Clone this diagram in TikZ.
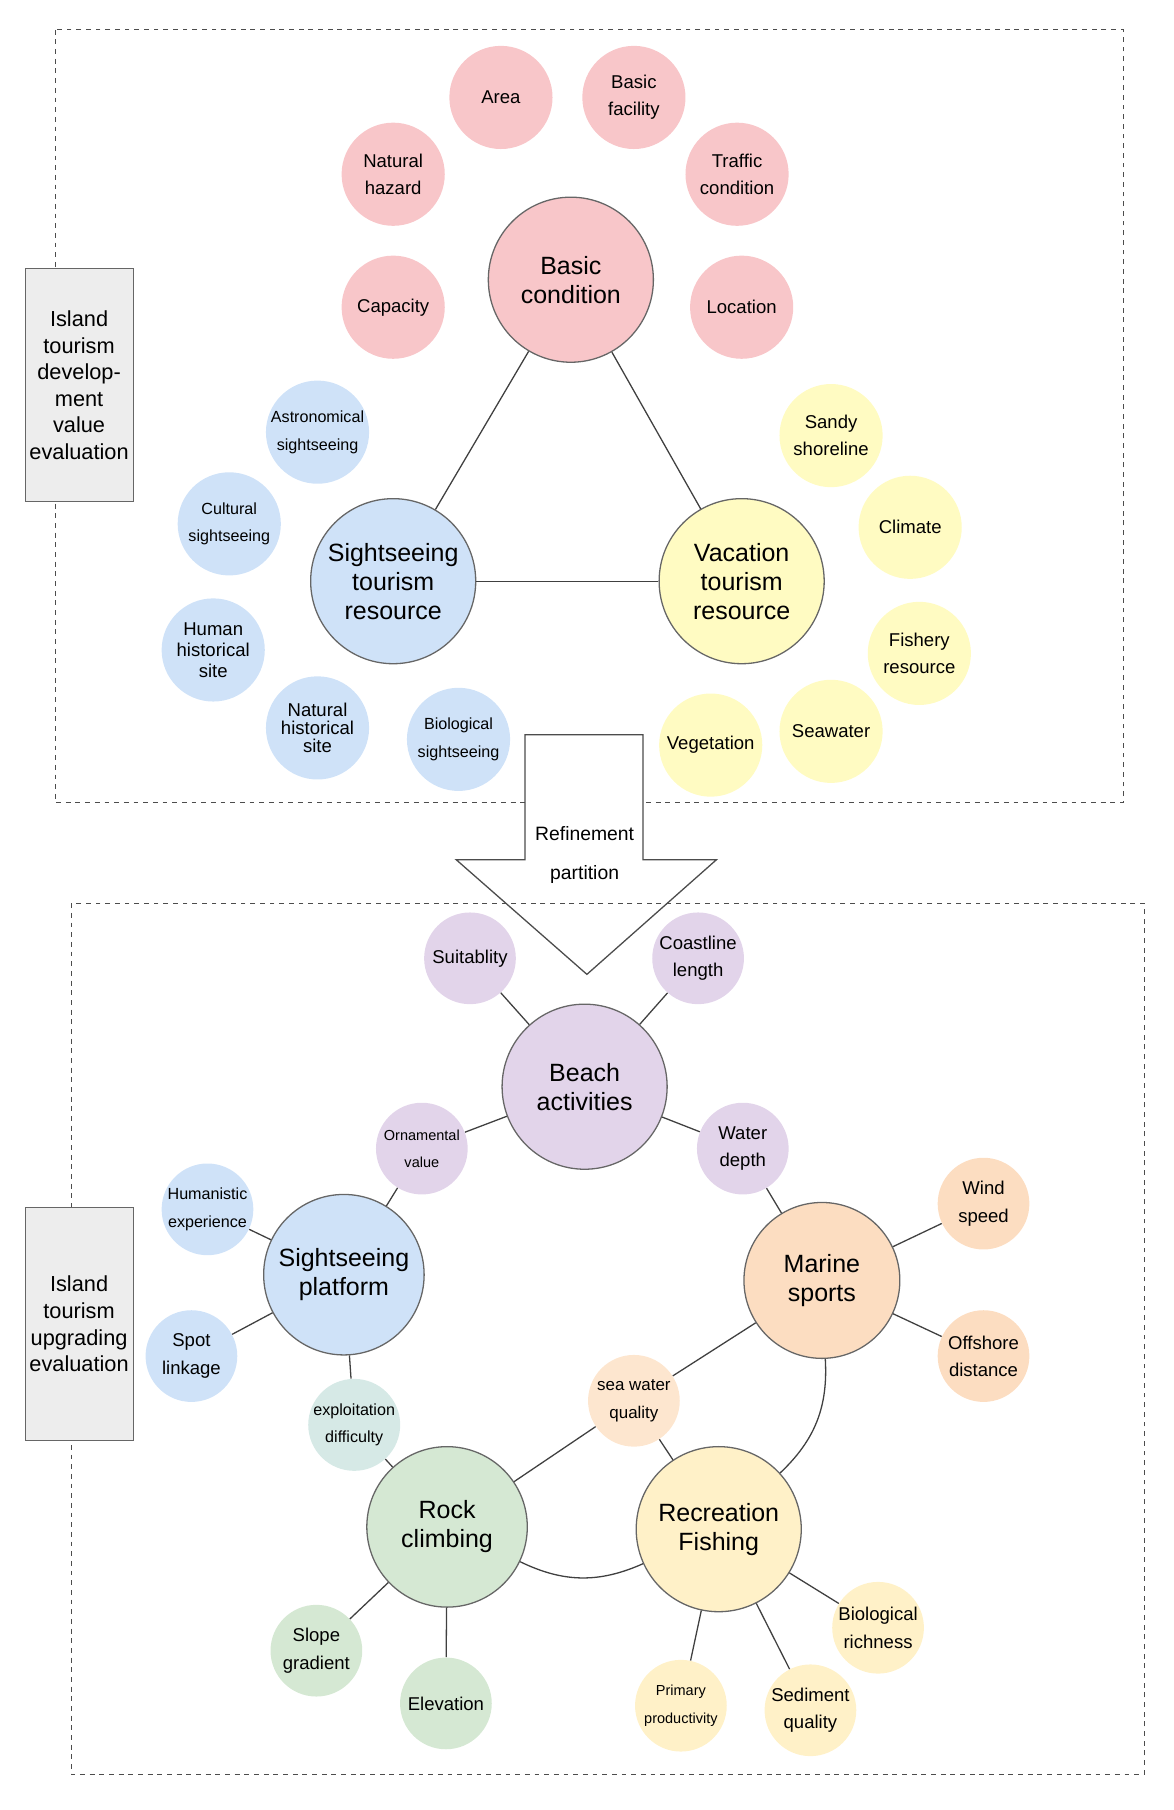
\documentclass[tikz,border=0pt]{standalone}
\usepackage{fontspec}
\setmainfont{Liberation Sans}
\usetikzlibrary{positioning}
\definecolor{cpink}{HTML}{F8C6C9}
\definecolor{cblue}{HTML}{CFE2F8}
\definecolor{cyell}{HTML}{FFFBC2}
\definecolor{cpurp}{HTML}{E2D4EA}
\definecolor{corng}{HTML}{FCDDC1}
\definecolor{cgren}{HTML}{D5E8D3}
\definecolor{cfish}{HTML}{FFF1C8}
\definecolor{cpeach}{HTML}{FDE6CF}
\definecolor{cteal}{HTML}{D6E9E6}
\tikzset{
  big/.style={circle,draw=black!60,thick,minimum size=144*0.025cm,inner sep=0pt,align=center,font=\fontsize{15.5}{18}\selectfont},
  small/.style={circle,draw=none,minimum size=90*0.025cm,inner sep=0pt,align=center,font=\fontsize{11.5}{17}\selectfont},
  tiny/.style={small,font=\fontsize{10}{17}\selectfont},
  side/.style={draw=black!60,fill=black!7,minimum width=94*0.025cm,minimum height=203*0.025cm,align=center,inner sep=1pt,font=\fontsize{13.5}{16.5}\selectfont},
  link/.style={draw=black!75,thick},
  area/.style={draw=black!70,dashed}
}
\begin{document}
\begin{tikzpicture}[x=0.025cm,y=-0.025cm]
\useasboundingbox (0,0) rectangle (1024,1579);
% upper part
\draw[area] (48,26) rectangle (980,700);
\node[side] (evalA) at (69,336) {Island\\tourism\\develop-\\ment\\value\\evaluation};
\node[big,fill=cpink] (basic) at (498,244) {Basic\\condition};
\node[big,fill=cblue] (sight) at (343,507) {Sightseeing\\tourism\\resource};
\node[big,fill=cyell] (vacat) at (647,507) {Vacation\\tourism\\resource};
\draw[link] (basic) -- (sight);
\draw[link] (basic) -- (vacat);
\draw[link] (sight) -- (vacat);
\node[small,fill=cpink] (area) at (437,85) {Area};
\node[small,fill=cpink] (facil) at (553,85) {Basic\\facility};
\node[small,fill=cpink] (hazard) at (343,152) {Natural\\hazard};
\node[small,fill=cpink] (traffic) at (643,152) {Traffic\\condition};
\node[small,fill=cpink] (capac) at (343,268) {Capacity};
\node[small,fill=cpink] (locat) at (647,268) {Location};
\node[tiny,fill=cblue] (astro) at (277,377) {Astronomical\\sightseeing};
\node[tiny,fill=cblue] (cultu) at (200,457) {Cultural\\sightseeing};
\node[small,fill=cblue,font=\fontsize{11.5}{13}\selectfont] (human) at (186,567) {Human\\historical\\site};
\node[small,fill=cblue,font=\fontsize{11.5}{11}\selectfont] (nhist) at (277,635) {Natural\\historical\\site};
\node[tiny,fill=cblue] (biosig) at (400,645) {Biological\\sightseeing};
\node[small,fill=cyell] (sandy) at (725,380) {Sandy\\shoreline};
\node[small,fill=cyell] (clim) at (794,460) {Climate};
\node[small,fill=cyell] (fish) at (802,570) {Fishery\\resource};
\node[small,fill=cyell] (seaw) at (725,638) {Seawater};
\node[small,fill=cyell] (veget) at (620,650) {Vegetation};
% refinement arrow
\draw[thick,draw=black!70,fill=white]
  (458,641) -- (561,641) -- (561,750) -- (625,750) -- (512,850) -- (398,750) -- (458,750) -- cycle;
\node[font=\fontsize{12}{14}\selectfont] (refin) at (510,727) {Refinement};
\node[font=\fontsize{12}{14}\selectfont] (partit) at (510,763) {partition};
% lower part
\draw[area] (62,788) rectangle (998,1548);
\node[side] (evalB) at (69,1155) {Island\\tourism\\upgrading\\evaluation};
\node[big,fill=cpurp] (beach) at (510,948) {Beach\\activities};
\node[big,fill=cblue,minimum size=140*0.025cm] (platf) at (300,1112) {Sightseeing\\platform};
\node[big,fill=corng,minimum size=136*0.025cm] (marine) at (717,1117) {Marine\\sports};
\node[big,fill=cgren,minimum size=140*0.025cm] (rock) at (390,1332) {Rock\\climbing};
\node[big,fill=cfish] (recre) at (627,1334) {Recreation\\Fishing};
\node[small,fill=cpurp,minimum size=80*0.025cm] (suit) at (410,836) {Suitablity};
\node[small,fill=cpurp,minimum size=80*0.025cm] (coast) at (609,836) {Coastline\\length};
\node[tiny,fill=cpurp,minimum size=80*0.025cm,font=\fontsize{9}{17}\selectfont] (ornam) at (368,1002) {Ornamental\\value};
\node[small,fill=cpurp,minimum size=80*0.025cm] (depth) at (648,1002) {Water\\depth};
\node[tiny,fill=cblue,minimum size=80*0.025cm] (humexp) at (181,1055) {Humanistic\\experience};
\node[small,fill=cblue,minimum size=80*0.025cm] (spot) at (167,1183) {Spot\\linkage};
\node[tiny,fill=cteal,minimum size=80*0.025cm] (exploit) at (309,1243) {exploitation\\difficulty};
\node[small,fill=corng,minimum size=80*0.025cm] (wind) at (858,1050) {Wind\\speed};
\node[small,fill=corng,minimum size=80*0.025cm] (offsh) at (858,1183) {Offshore\\distance};
\node[tiny,fill=cpeach,minimum size=80*0.025cm,font=\fontsize{10.5}{17}\selectfont] (swq) at (553,1222) {sea water\\quality};
\node[small,fill=cgren,minimum size=80*0.025cm] (slope) at (276,1440) {Slope\\gradient};
\node[small,fill=cgren,minimum size=80*0.025cm] (elev) at (389,1486) {Elevation};
\node[small,fill=cfish,minimum size=80*0.025cm] (biorich) at (766,1420) {Biological\\richness};
\node[small,fill=cfish,minimum size=80*0.025cm] (sedim) at (707,1492) {Sediment\\quality};
\node[tiny,fill=cfish,minimum size=80*0.025cm,font=\fontsize{9}{17}\selectfont] (primar) at (594,1488) {Primary\\productivity};
\draw[link] (beach) -- (suit);
\draw[link] (beach) -- (coast);
\draw[link] (beach) -- (ornam);
\draw[link] (ornam) -- (platf);
\draw[link] (beach) -- (depth);
\draw[link] (depth) -- (marine);
\draw[link] (platf) -- (humexp);
\draw[link] (platf) -- (spot);
\draw[link] (platf) -- (exploit);
\draw[link] (exploit) -- (rock);
\draw[link] (marine) -- (wind);
\draw[link] (marine) -- (offsh);
\draw[link] (marine) -- (swq);
\draw[link] (swq) -- (rock);
\draw[link] (swq) -- (recre);
\draw[link] (marine) to[bend left=25] (recre);
\draw[link] (rock) to[bend right=25] (recre);
\draw[link] (rock) -- (slope);
\draw[link] (rock) -- (elev);
\draw[link] (recre) -- (biorich);
\draw[link] (recre) -- (sedim);
\draw[link] (recre) -- (primar);
\end{tikzpicture}
\end{document}
